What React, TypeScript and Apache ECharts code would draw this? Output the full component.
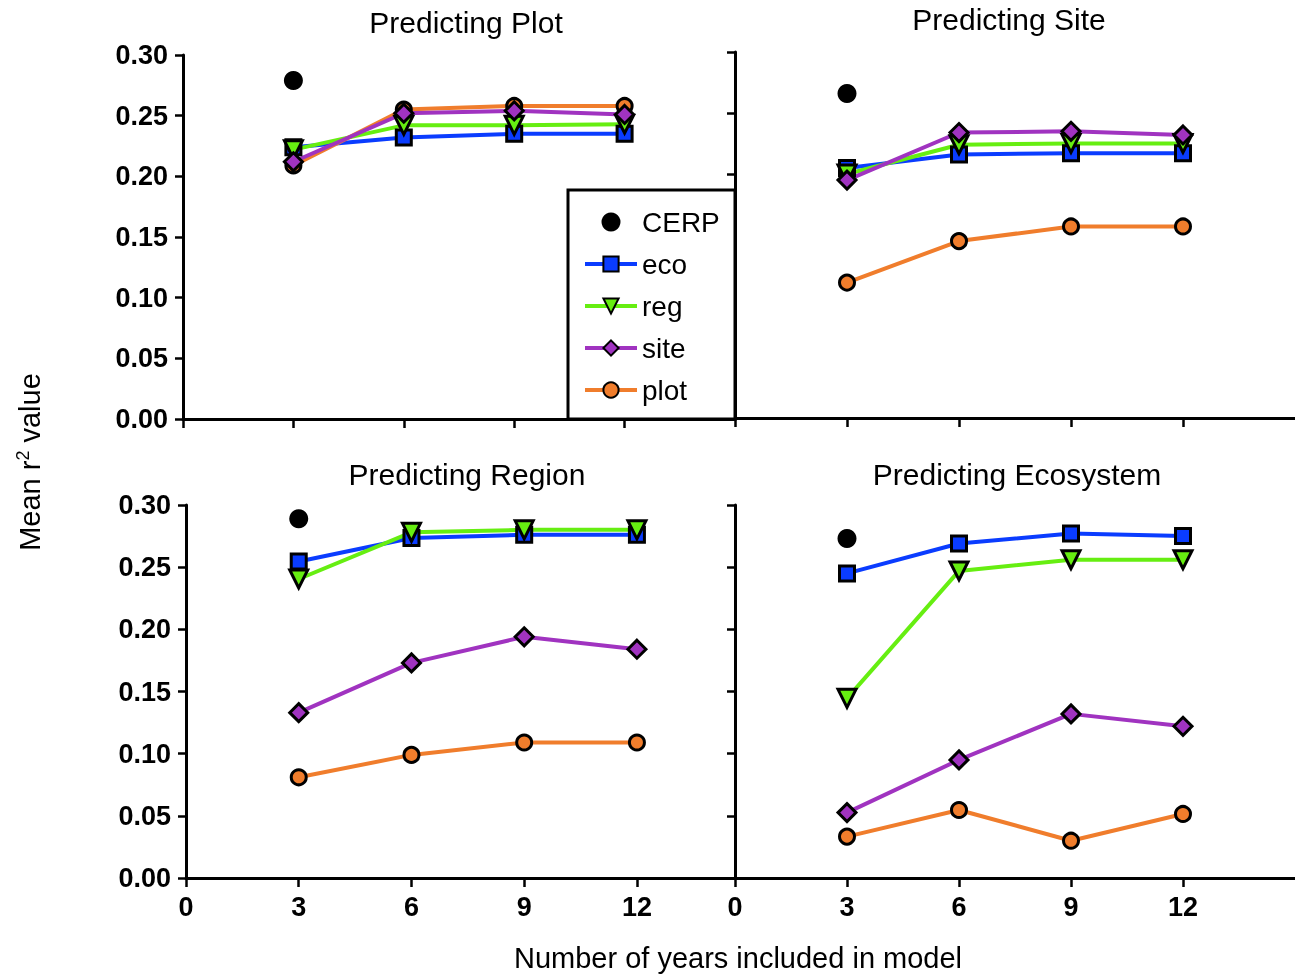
import React, { useEffect, useRef } from "react";
import * as echarts from "echarts";

const years = [3, 6, 9, 12];
const xTicks = [0, 3, 6, 9, 12];
const seriesNames = ["CERP", "eco", "reg", "site", "plot"];
const panelTitles = ["Predicting Plot", "Predicting Site", "Predicting Region", "Predicting Ecosystem"];

// Predicting Plot
const plotCERP = 0.279;
const plotEco = [0.224, 0.232, 0.235, 0.235];
const plotReg = [0.222, 0.242, 0.242, 0.243];
const plotSite = [0.212, 0.252, 0.254, 0.251];
const plotPlot = [0.209, 0.255, 0.258, 0.258];

// Predicting Site
const siteCERP = 0.266;
const siteEco = [0.205, 0.216, 0.217, 0.217];
const siteReg = [0.2, 0.224, 0.225, 0.225];
const siteSite = [0.195, 0.234, 0.235, 0.232];
const sitePlot = [0.111, 0.145, 0.157, 0.157];

// Predicting Region
const regionCERP = 0.289;
const regionEco = [0.2545, 0.2735, 0.276, 0.276];
const regionReg = [0.2405, 0.278, 0.28, 0.28];
const regionSite = [0.133, 0.173, 0.194, 0.184];
const regionPlot = [0.081, 0.099, 0.109, 0.109];

// Predicting Ecosystem
const ecoCERP = 0.273;
const ecoEco = [0.245, 0.269, 0.277, 0.275];
const ecoReg = [0.1445, 0.247, 0.256, 0.256];
const ecoSite = [0.0526, 0.095, 0.132, 0.122];
const ecoPlot = [0.0333, 0.0547, 0.03, 0.0515];

const panels = [
  { cerp: plotCERP, eco: plotEco, reg: plotReg, site: plotSite, plot: plotPlot },
  { cerp: siteCERP, eco: siteEco, reg: siteReg, site: siteSite, plot: sitePlot },
  { cerp: regionCERP, eco: regionEco, reg: regionReg, site: regionSite, plot: regionPlot },
  { cerp: ecoCERP, eco: ecoEco, reg: ecoReg, site: ecoSite, plot: ecoPlot },
];

const COLORS = { eco: "#0a3cff", reg: "#66ee11", site: "#a033c0", plot: "#f07d2c", cerp: "#000000" };
const FONT = "Liberation Sans, Arial, Helvetica, sans-serif";

const grids = [
  { left: 183, top: 55, width: 552, height: 364, xMax: 15 },
  { left: 735, top: 52, width: 560, height: 366, xMax: 15 },
  { left: 186, top: 505, width: 549, height: 373, xMax: 14.61 },
  { left: 735, top: 505, width: 560, height: 373, xMax: 15 },
];

const titlePos = [
  [466, 22],
  [1009, 19],
  [467, 474],
  [1017, 474],
];

export default function App() {
  const ref = useRef<HTMLDivElement>(null);
  useEffect(() => {
    if (!ref.current) return;
    const chart = echarts.init(ref.current, null, { renderer: "svg" });

    const xAxis: any[] = [];
    const yAxis: any[] = [];
    const series: any[] = [];

    grids.forEach((g, i) => {
      const showXLabels = i >= 2;
      const showYLabels = i % 2 === 0;
      xAxis.push({
        type: "value",
        gridIndex: i,
        min: 0,
        max: g.xMax,
        axisLine: { show: true, onZero: false, lineStyle: { color: "#000", width: 3 } },
        axisTick: { show: true, length: 9, customValues: xTicks, lineStyle: { color: "#000", width: 2.5 } },
        axisLabel: {
          show: showXLabels,
          customValues: xTicks,
          margin: 15,
          color: "#000",
          fontSize: 27,
          fontWeight: "bold",
          fontFamily: FONT,
        },
        splitLine: { show: false },
      });
      yAxis.push({
        type: "value",
        gridIndex: i,
        min: 0,
        max: 0.3,
        interval: 0.05,
        axisLine: { show: true, onZero: false, lineStyle: { color: "#000", width: 3 } },
        axisTick: { show: true, length: 8, lineStyle: { color: "#000", width: 2.5 } },
        axisLabel: {
          show: showYLabels,
          margin: 15,
          color: "#000",
          fontSize: 27,
          fontWeight: "bold",
          fontFamily: FONT,
          formatter: (v: number) => v.toFixed(2),
        },
        splitLine: { show: false },
      });

      const p = panels[i];
      const mk = (name: string, data: number[], color: string, symbol: string, size: number, rotate = 0) => ({
        type: "line",
        name,
        xAxisIndex: i,
        yAxisIndex: i,
        data: years.map((y, k) => [y, data[k]]),
        symbol,
        symbolSize: size,
        symbolRotate: rotate,
        showAllSymbol: true,
        lineStyle: { color, width: 4 },
        itemStyle: { color, borderColor: "#000", borderWidth: 3 },
        emphasis: { disabled: true },
      });
      series.push(mk("eco", p.eco, COLORS.eco, "rect", 15));
      series.push(mk("reg", p.reg, COLORS.reg, "triangle", 18, 180));
      series.push(mk("plot", p.plot, COLORS.plot, "circle", 15));
      series.push(mk("site", p.site, COLORS.site, "diamond", 18));
      series.push({
        type: "scatter",
        name: "CERP",
        xAxisIndex: i,
        yAxisIndex: i,
        data: [[3, p.cerp]],
        symbol: "circle",
        symbolSize: 19,
        itemStyle: { color: "#000", opacity: 1 },
        emphasis: { disabled: true },
      });
    });

    const graphics: any[] = panelTitles.map((t, i) => ({
      type: "text",
      x: titlePos[i][0],
      y: titlePos[i][1],
      style: {
        text: t,
        fill: "#000",
        font: `30px ${FONT}`,
        align: "center",
        verticalAlign: "middle",
      },
    }));
    graphics.push({
      type: "text",
      x: 738,
      y: 958,
      style: {
        text: "Number of years included in model",
        fill: "#000",
        font: `29px ${FONT}`,
        align: "center",
        verticalAlign: "middle",
      },
    });
    graphics.push({
      type: "text",
      x: 30,
      y: 462,
      rotation: Math.PI / 2,
      style: {
        text: "Mean r{sup|2} value",
        fill: "#000",
        fontSize: 29,
        fontFamily: FONT,
        align: "center",
        verticalAlign: "middle",
        rich: {
          sup: { fontSize: 18, fontFamily: FONT, fill: "#000", verticalAlign: "top", lineHeight: 32 },
        },
      },
    });
    graphics.push({
      type: "rect",
      shape: { x: 568, y: 190, width: 167, height: 229 },
      style: { fill: "#fff", stroke: "#000", lineWidth: 3 },
      z: 5,
    });

    chart.setOption({
      animation: false,
      grid: grids.map((g) => ({ left: g.left, top: g.top, width: g.width, height: g.height, containLabel: false })),
      xAxis,
      yAxis,
      series,
      graphic: graphics,
      legend: {
        data: seriesNames,
        orient: "vertical",
        left: 583,
        top: 208,
        padding: 0,
        itemWidth: 52,
        itemHeight: 19,
        itemGap: 14,
        z: 10,
        selectedMode: false,
        lineStyle: { width: 4 },
        textStyle: { color: "#000", fontSize: 28, fontFamily: FONT, lineHeight: 27 },
      },
    });
    return () => chart.dispose();
  }, []);
  return <div ref={ref} style={{ position: "fixed", left: 0, top: 0, width: 1295, height: 974 }} />;
}
